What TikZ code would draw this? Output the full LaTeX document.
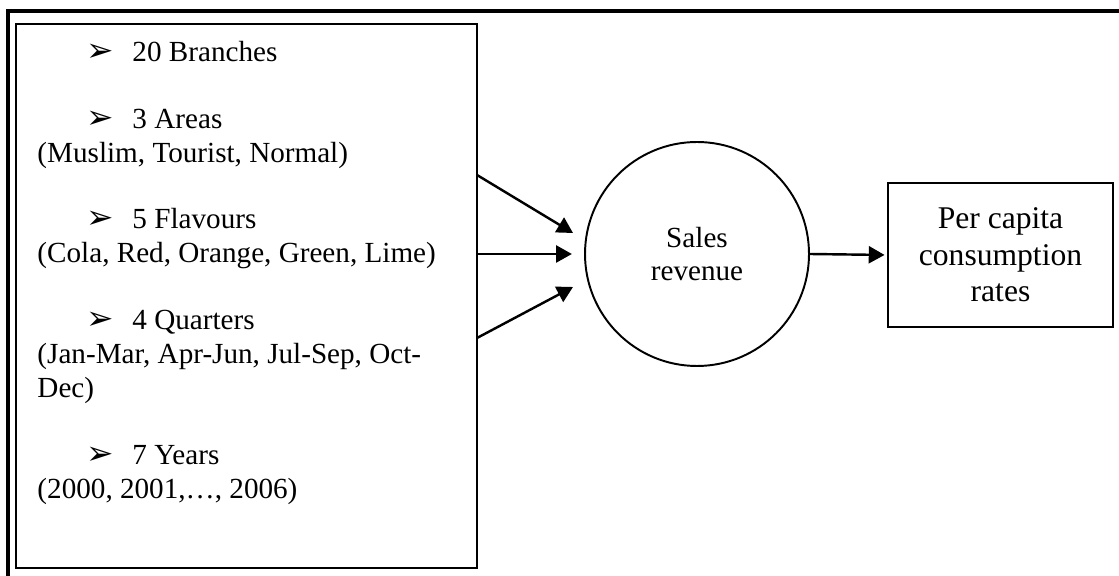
\documentclass[tikz,border=0pt]{standalone}
\usepackage{fontspec}
\setmainfont{Liberation Serif}
\newfontfamily\dingfont{DejaVu Sans}
\usetikzlibrary{arrows.meta,fit}

\tikzset{
  txt/.style={anchor=base west,inner sep=0pt,font=\fontsize{12}{14}\selectfont},
  bul/.style={anchor=base west,inner sep=0pt,font=\dingfont\fontsize{13.5}{14}\selectfont},
  flow/.style={line width=1pt,-{Triangle[length=6.5pt,width=7pt]}}
}

\begin{document}
\begin{tikzpicture}[x=0.01447cm,y=0.01447cm]
  \useasboundingbox (0,0) rectangle (1119,576);
  \draw[line width=1.4pt] (8,0)--(8,565)--(1119,565);
  \node[fit={(16,8) (477,552)},inner sep=0pt,draw,line width=0.9pt] (factors) {};
  \node[bul] (b1) at (86,514) {➢};
  \node[txt] (t1) at (132,514) {20 Branches};
  \node[bul] (b2) at (86,447) {➢};
  \node[txt] (t2) at (132,447) {3 Areas};
  \node[txt] (p2) at (37,413) {(Muslim, Tourist, Normal)};
  \node[bul] (b3) at (86,347) {➢};
  \node[txt] (t3) at (132,347) {5 Flavours};
  \node[txt] (p3) at (37,313) {(Cola, Red, Orange, Green, Lime)};
  \node[bul] (b4) at (86,246) {➢};
  \node[txt] (t4) at (132,246) {4 Quarters};
  \node[txt] (p4) at (37,212) {(Jan-Mar, Apr-Jun, Jul-Sep, Oct-};
  \node[txt] (q4) at (37,178) {Dec)};
  \node[bul] (b5) at (86,111) {➢};
  \node[txt] (t5) at (132,111) {7 Years};
  \node[txt] (p5) at (37,77) {(2000, 2001,\dots, 2006)};
  \node[circle,draw,line width=0.8pt,minimum size=3.24cm,align=center,
        font=\fontsize{12}{13.8}\selectfont] (sales) at (697,322) {Sales\\revenue};
  \node[rectangle,draw,line width=0.8pt,minimum width=3.256cm,minimum height=2.084cm,
        align=center,font=\fontsize{13}{15}\selectfont] (rates) at (1000.5,321)
        {Per capita\\consumption\\rates};
  \coordinate (s1) at (477,401);
  \coordinate (e1) at (573,343);
  \coordinate (s3) at (477,238);
  \coordinate (e3) at (573,289);
  \draw[flow] (s1)--(e1);
  \draw[flow,shorten >=5pt] (factors.east |- sales.west)--(sales.west);
  \draw[flow] (s3)--(e3);
  \draw[flow,shorten >=1pt] (sales.east)--(rates.west);
\end{tikzpicture}
\end{document}
